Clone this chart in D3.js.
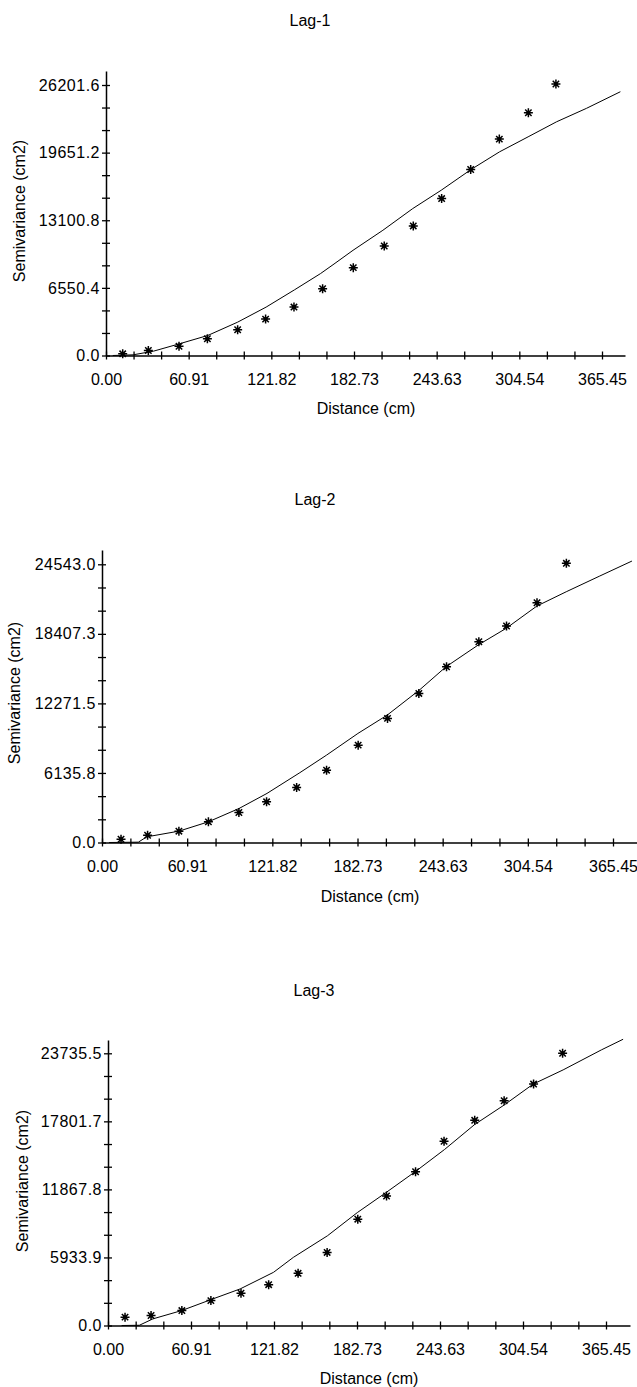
<!DOCTYPE html>
<html>
<head>
    <title>Semivariograms Lag-1 to Lag-3</title>
    <script src="https://d3js.org/d3.v7.min.js"></script>
    <style>
        body { margin: 0; background: #fff; }
        text { font-family: "Liberation Sans", Arial, sans-serif; font-size: 16px; fill: #000; }
        .yaxis .tick text { letter-spacing: 0.5px; }
    </style>
</head>
<body>
    <script>
        // observed semivariance (stars)
        var lag1Dist = [12.3, 31.2, 53.8, 74.7, 97.0, 117.6, 138.5, 159.6, 182.2, 205.0, 226.4, 247.3, 268.7, 289.8, 311.2, 331.5];
        var lag1Gamma = [165, 485, 900, 1620, 2490, 3525, 4690, 6470, 8510, 10610, 12550, 15200, 18020, 20960, 23510, 26300];
        var lag2Dist = [13.6, 32.6, 55.0, 76.1, 97.9, 117.7, 139.2, 160.6, 183.2, 204.2, 226.6, 246.4, 269.5, 289.3, 311.1, 332.1];
        var lag2Gamma = [290, 640, 1000, 1820, 2650, 3590, 4860, 6380, 8590, 10950, 13150, 15500, 17710, 19100, 21150, 24630];
        var lag3Dist = [12.5, 31.6, 54.2, 75.5, 97.6, 117.9, 139.5, 160.8, 183.3, 204.4, 225.7, 246.6, 269.1, 290.7, 312.3, 333.6];
        var lag3Gamma = [730, 870, 1300, 2170, 2810, 3560, 4550, 6370, 9270, 11290, 13410, 16070, 17890, 19600, 21050, 23740];

        // fitted model curve
        var lag1ModelDist = [5, 20, 35, 54, 75, 97, 118, 139, 158, 168, 182, 204, 226, 247, 269, 290, 311, 332, 354, 379];
        var lag1ModelGamma = [0, 65, 420, 1130, 1940, 3230, 4690, 6370, 7930, 8860, 10190, 12130, 14230, 16010, 18020, 19730, 21180, 22640, 23940, 25550];
        var lag2ModelDist = [5, 26, 32, 55, 76, 98, 118, 141.5, 160.6, 183, 204, 227, 246, 269, 289, 311, 332, 356, 379];
        var lag2ModelGamma = [0, 30, 500, 1000, 1820, 3000, 4330, 6160, 7710, 9620, 11240, 13450, 15500, 17420, 18890, 20860, 22120, 23510, 24830];
        var lag3ModelDist = [10, 23, 33, 54, 77, 97, 121.5, 136, 161, 183, 204, 226, 247, 269, 291, 312, 334, 362, 378];
        var lag3ModelGamma = [0, 20, 580, 1300, 2320, 3190, 4640, 5940, 7820, 9850, 11590, 13460, 15350, 17520, 19250, 21050, 22290, 24030, 24960];

        // tick labels
        var xTickLabels = ["0.00", "60.91", "121.82", "182.73", "243.63", "304.54", "365.45"];
        var xMax = 365.45;
        var lag1YLabels = ["0.0", "6550.4", "13100.8", "19651.2", "26201.6"];
        var lag2YLabels = ["0.0", "6135.8", "12271.5", "18407.3", "24543.0"];
        var lag3YLabels = ["0.0", "5933.9", "11867.8", "17801.7", "23735.5"];
        var titles = ["Lag-1", "Lag-2", "Lag-3"];

        var panels = [
            {title: titles[0], dist: lag1Dist, gamma: lag1Gamma, mDist: lag1ModelDist, mGamma: lag1ModelGamma, yLabels: lag1YLabels,
             x0: 106, x1: 602, xEnd: 625, y0: 355.5, y1: 85, yEnd: 71, tx: 310, ty: 26, ylx: 19, yly: 211, xlx: 366, xly: 414},
            {title: titles[1], dist: lag2Dist, gamma: lag2Gamma, mDist: lag2ModelDist, mGamma: lag2ModelGamma, yLabels: lag2YLabels,
             x0: 102, x1: 613, xEnd: 637, y0: 842.5, y1: 564.3, yEnd: 550, tx: 315, ty: 505, ylx: 14.5, yly: 693, xlx: 370, xly: 902},
            {title: titles[2], dist: lag3Dist, gamma: lag3Gamma, mDist: lag3ModelDist, mGamma: lag3ModelGamma, yLabels: lag3YLabels,
             x0: 108, x1: 606, xEnd: 630, y0: 1325.5, y1: 1053.3, yEnd: 1040, tx: 314, ty: 996, ylx: 22, yly: 1181, xlx: 369, xly: 1384}
        ];

        var svg = d3.select("body")
            .append("svg")
            .attr("width", 637)
            .attr("height", 1387);

        // 8-spoke asterisk
        var star = "M-4.5,0H4.5M0,-4.5V4.5M-3.2,-3.2L3.2,3.2M-3.2,3.2L3.2,-3.2";

        function drawPanel(p) {
            var yMax = +p.yLabels[p.yLabels.length - 1];
            var x = d3.scaleLinear().domain([0, xMax]).range([p.x0, p.x1]);
            var y = d3.scaleLinear().domain([0, yMax]).range([p.y0, p.y1]);

            // axis scales run a little past the last tick
            var xAx = x.copy().domain([0, x.invert(p.xEnd)]).range([p.x0, p.xEnd]);
            var yAx = y.copy().domain([0, y.invert(p.yEnd)]).range([p.y0, p.yEnd]);

            var xTicks = d3.range(19).map(function(i) { return i * xMax / 18; });
            var yTicks = d3.range(13).map(function(i) { return i * yMax / 12; });

            var g = svg.append("g");

            var gx = g.append("g")
                .attr("transform", "translate(0," + p.y0 + ")")
                .call(d3.axisBottom(xAx).tickValues(xTicks).tickSize(4).tickSizeOuter(0)
                    .tickFormat(function(d, i) { return i % 3 === 0 ? xTickLabels[i / 3] : ""; }));

            var gy = g.append("g")
                .attr("class", "yaxis")
                .attr("transform", "translate(" + p.x0 + ",0)")
                .call(d3.axisLeft(yAx).tickValues(yTicks).tickSize(4).tickSizeOuter(0).tickPadding(2)
                    .tickFormat(function(d, i) { return i % 3 === 0 ? p.yLabels[i / 3] : ""; }));

            [gx, gy].forEach(function(a) {
                a.attr("font-size", null).attr("font-family", null);
                a.select(".domain").attr("stroke", "#000").attr("stroke-width", 1.5);
                a.selectAll(".tick line").attr("stroke", "#000").attr("stroke-width", 1.3);
            });
            gx.selectAll(".tick line").attr("y1", -4).attr("y2", 4);
            gx.selectAll(".tick text").attr("y", 29).attr("dy", null);
            gy.selectAll(".tick line").attr("x1", 4).attr("x2", -4);

            // model line
            var line = d3.line()
                .x(function(d) { return x(d[0]); })
                .y(function(d) { return y(d[1]); });
            g.append("path")
                .datum(d3.zip(p.mDist, p.mGamma))
                .attr("d", line)
                .attr("fill", "none")
                .attr("stroke", "#000")
                .attr("stroke-width", 1);

            // observed points
            var pts = g.append("g").selectAll("g")
                .data(d3.zip(p.dist, p.gamma))
                .join("g")
                .attr("transform", function(d) { return "translate(" + x(d[0]) + "," + y(d[1]) + ")"; });
            pts.append("path")
                .attr("d", star)
                .attr("stroke", "#000")
                .attr("stroke-width", 1.5);
            pts.append("circle")
                .attr("r", 2)
                .attr("fill", "#000");

            // titles
            g.append("text")
                .attr("x", p.tx).attr("y", p.ty)
                .attr("text-anchor", "middle")
                .text(p.title);
            g.append("text")
                .attr("x", p.xlx).attr("y", p.xly)
                .attr("text-anchor", "middle")
                .text("Distance (cm)");
            g.append("text")
                .attr("transform", "translate(" + p.ylx + "," + p.yly + ") rotate(-90)")
                .attr("text-anchor", "middle")
                .attr("dy", "0.35em")
                .text("Semivariance (cm2)");
        }

        panels.forEach(drawPanel);
    </script>
</body>
</html>
